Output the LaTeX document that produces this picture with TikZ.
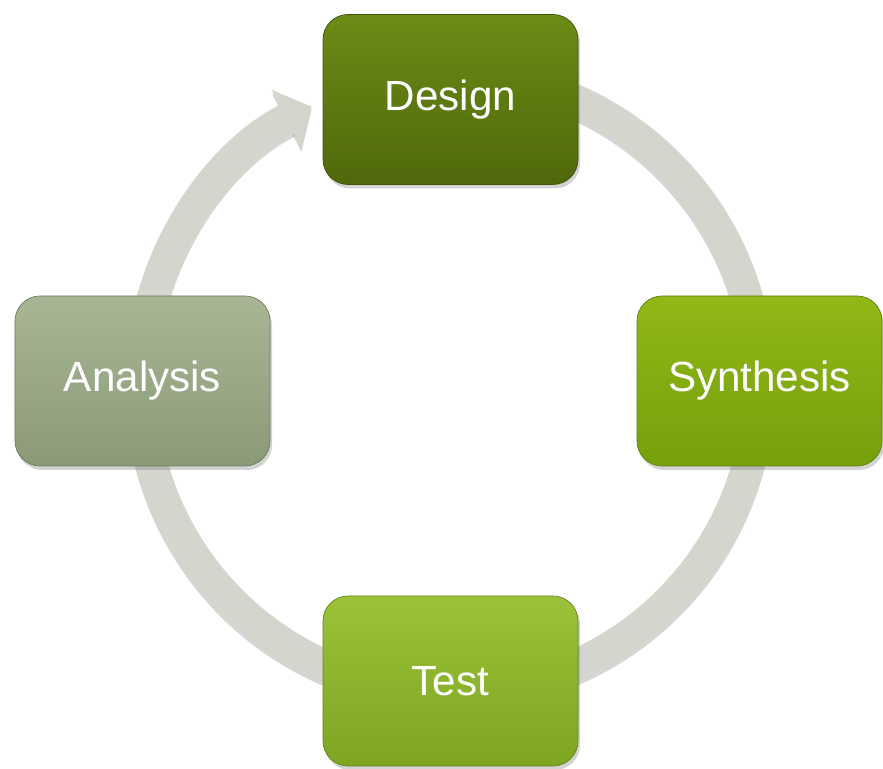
\documentclass[tikz,border=0pt]{standalone}
\usepackage{fontspec}
\setmainfont{Liberation Sans}
\usepackage{xcolor}
\definecolor{cRing}{HTML}{D4D6CE}
\definecolor{cShade}{HTML}{8A8C86}
\definecolor{cDesignT}{HTML}{6B8B16}
\definecolor{cDesignB}{HTML}{4F690B}
\definecolor{cSynthT}{HTML}{90B816}
\definecolor{cSynthB}{HTML}{76A00C}
\definecolor{cTestT}{HTML}{9CC23A}
\definecolor{cTestB}{HTML}{7DA520}
\definecolor{cAnaT}{HTML}{A8B696}
\definecolor{cAnaB}{HTML}{8A9A76}
\usepackage{tikz}
\usetikzlibrary{positioning,arrows.meta,shadows,calc}
\tikzset{
  node-box/.style={draw=#1!80!black,thin,rounded corners=5mm,
    minimum width=51mm,minimum height=34mm,align=center,text=white,
    font=\fontsize{24}{28}\selectfont,
    drop shadow={shadow xshift=0.4mm,shadow yshift=-0.8mm,opacity=0.35}},
  node-design/.style={node-box=cDesignB,top color=cDesignT,bottom color=cDesignB},
  node-synth/.style={node-box=cSynthB,top color=cSynthT,bottom color=cSynthB},
  node-test/.style={node-box=cTestB,top color=cTestT,bottom color=cTestB},
  node-ana/.style={node-box=cAnaB,top color=cAnaT,bottom color=cAnaB},
  % ring arrow with a soft shadow underneath
  arrow-cycle/.style={-{Triangle[length=5.6mm,width=12.8mm]},
    line width=6.4mm,draw=cRing},
  arrow-shadow/.style={-{Triangle[length=5.6mm,width=12.8mm]},
    line width=6.4mm,draw=cShade,opacity=0.35},
}
\begin{document}
\begin{tikzpicture}[x=0.2mm,y=0.2mm]
  \useasboundingbox (0,0) rectangle (883,769);
  \coordinate (c) at (450,386);
  \coordinate (ring-start) at ($(c)+(80:61.8mm)$);
  \coordinate (ring-shadow) at ($(ring-start)+(0,-0.7mm)$);
  \draw[arrow-shadow] (ring-shadow) arc[start angle=80,end angle=-243.4,radius=61.8mm];
  \draw[arrow-cycle] (ring-start) arc[start angle=80,end angle=-243.4,radius=61.8mm];
  \node[node-design] (design) at (450.5,669.5) {Design};
  \node[node-synth,minimum width=49mm] (synth) at (759.5,388) {Synthesis};
  \node[node-test] (test) at (450.5,88) {Test};
  \node[node-ana] (ana) at (142.5,388) {Analysis};
\end{tikzpicture}
\end{document}
